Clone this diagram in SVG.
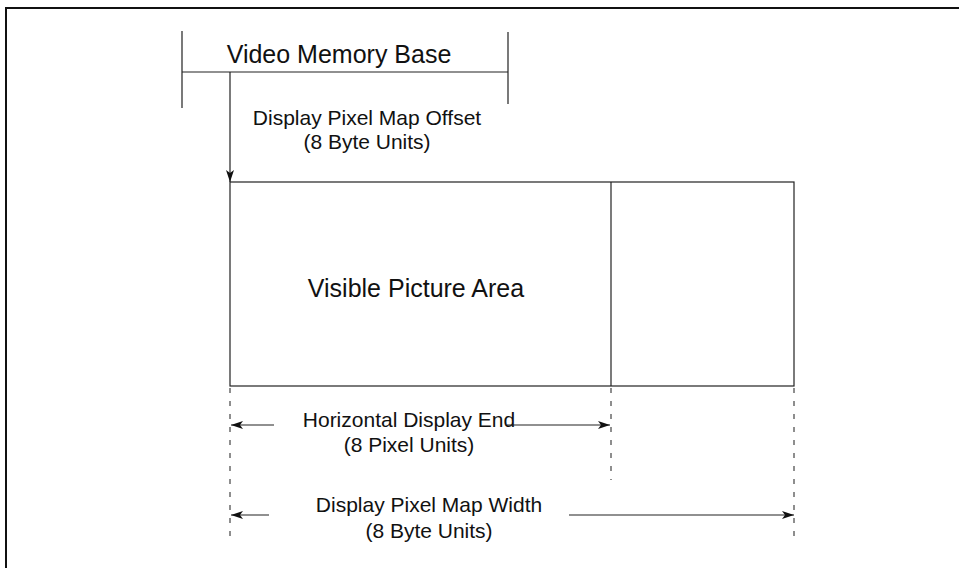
<svg xmlns="http://www.w3.org/2000/svg" width="959" height="568" viewBox="0 0 959 568">
<style>
.ln{stroke:#222;stroke-width:1.2;fill:none}
.dash{stroke:#444;stroke-width:1.2;fill:none;stroke-dasharray:5 8}
.border{stroke:#111;stroke-width:2;fill:none}
text{font-family:"Liberation Sans",Arial,sans-serif;fill:#111;text-anchor:middle}
.big{font-size:25px}
.sm{font-size:21px}
</style>
<defs>
<marker id="ah" markerWidth="12" markerHeight="8" refX="12" refY="4" orient="auto" markerUnits="userSpaceOnUse">
<path d="M0,0 L12,4 L0,8 L3,4 Z" fill="#111"/>
</marker>
</defs>
<rect width="959" height="568" fill="#fff"/>
<path class="border" d="M6,568 V8 H959"/>
<g id="video-memory-base">
<path class="ln" d="M182,31 V108 M508,32 V104 M182,72 H508"/>
<text class="big" x="339" y="63">Video Memory Base</text>
</g>
<g id="visible-picture-area">
<rect class="ln" x="230" y="182" width="564" height="204"/>
<line class="ln" x1="611" y1="182" x2="611" y2="386"/>
<text class="big" x="416" y="297">Visible Picture Area</text>
</g>
<g id="offset-label">
<text class="sm" x="367" y="125">Display Pixel Map Offset</text>
<text class="sm" x="367" y="149">(8 Byte Units)</text>
</g>
<g id="hde-label">
<text class="sm" x="409" y="427">Horizontal Display End</text>
<text class="sm" x="409" y="452">(8 Pixel Units)</text>
</g>
<g id="width-label">
<text class="sm" x="429" y="512">Display Pixel Map Width</text>
<text class="sm" x="429" y="538">(8 Byte Units)</text>
</g>
<g id="connectors">
<line class="ln" x1="230" y1="72" x2="230" y2="182" marker-end="url(#ah)"/>
<line class="dash" x1="230" y1="388" x2="230" y2="540"/>
<line class="dash" x1="611" y1="388" x2="611" y2="480"/>
<line class="dash" x1="794" y1="388" x2="794" y2="540"/>
<line class="ln" x1="274" y1="425" x2="231" y2="425" marker-end="url(#ah)"/>
<line class="ln" x1="507" y1="425" x2="610" y2="425" marker-end="url(#ah)"/>
<line class="ln" x1="269" y1="515" x2="231" y2="515" marker-end="url(#ah)"/>
<line class="ln" x1="569" y1="515" x2="794" y2="515" marker-end="url(#ah)"/>
</g>
</svg>
